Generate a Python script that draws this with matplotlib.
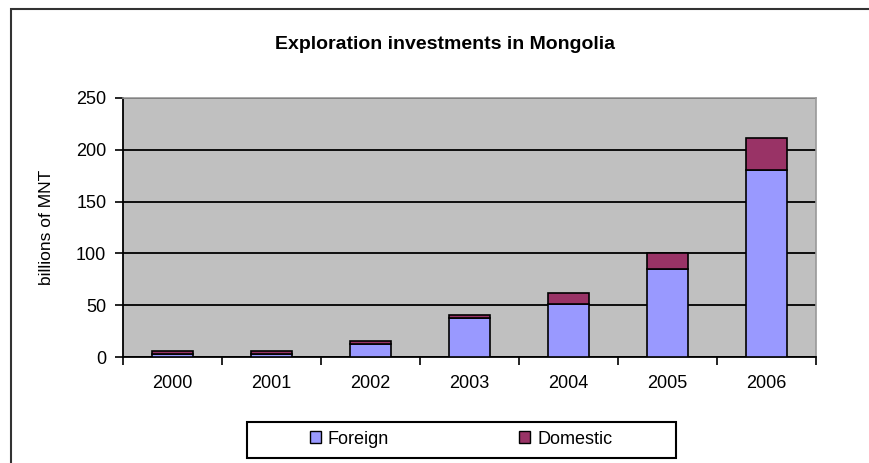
import matplotlib.pyplot as plt
from matplotlib.patches import Rectangle, Patch

years = ['2000', '2001', '2002', '2003', '2004', '2005', '2006']
foreign = [2.5, 2.5, 13, 38, 51, 84.5, 180.5]
domestic = [3, 3, 2.5, 2.5, 11, 15.5, 31]

plt.rcParams['font.family'] = ['Liberation Sans', 'DejaVu Sans']

W, H = 870, 463
fig = plt.figure(figsize=(W / 100, H / 100), dpi=100)
# axes box in pixel coords of the reference
ax = fig.add_axes([123 / W, 1 - 357 / H, (816 - 123) / W, (357 - 98) / H])

# outer chart border (cropped on right and bottom)
fig.patches.append(Rectangle((11 / W, -0.1), 1.2, 1 - 9 / H + 0.1,
                             transform=fig.transFigure, fill=False,
                             edgecolor='#333333', linewidth=1.5))

x = range(len(years))
ax.bar(x, foreign, width=0.41, color='#9999FF', edgecolor='black', linewidth=1.2, zorder=3)
ax.bar(x, domestic, width=0.41, bottom=foreign, color='#993366', edgecolor='black',
       linewidth=1.2, zorder=3)

ax.set_facecolor('#C0C0C0')
ax.set_xlim(-0.5, len(years) - 0.5)
ax.set_ylim(0, 250)
ax.set_yticks(range(0, 251, 50))
ax.yaxis.grid(True, color='black', linewidth=1.3, zorder=1)
ax.set_axisbelow(True)

ax.set_xticks(list(x))
ax.set_xticklabels(years, fontsize=13)
ax.set_xticks([i + 0.5 for i in range(-1, len(years))], minor=True)
ax.tick_params(axis='x', which='major', length=0, pad=13)
ax.tick_params(axis='x', which='minor', length=6, width=1.2, direction='out')
ax.tick_params(axis='y', length=6, width=1.2, direction='out', pad=6, labelsize=13)

for s in ['left', 'bottom']:
    ax.spines[s].set_color('black')
    ax.spines[s].set_linewidth(1.3)
for s in ['top', 'right']:
    ax.spines[s].set_color('#999999')
    ax.spines[s].set_linewidth(1.2)

ax.set_ylabel('billions of MNT', fontsize=12.5)
ax.yaxis.set_label_coords(-0.099, 0.5)
fig.text(445 / W, 1 - 49 / H, 'Exploration investments in Mongolia',
         ha='center', va='baseline', fontsize=14, fontweight='bold')

# legend box
fig.patches.append(Rectangle((247 / W, 1 - 458 / H), (676 - 247) / W, (458 - 422) / H,
                             transform=fig.transFigure, fill=False,
                             edgecolor='black', linewidth=1.5))
handles = [Patch(facecolor='#9999FF', edgecolor='black', label='Foreign'),
           Patch(facecolor='#993366', edgecolor='black', label='Domestic')]
fig.legend(handles=handles, loc='center', bbox_to_anchor=(461 / W, 1 - 439 / H),
           ncol=2, frameon=False, fontsize=13, handlelength=0.6, handleheight=0.6,
           handletextpad=0.4, columnspacing=7.2)

fig.savefig('out.png', dpi=100)
